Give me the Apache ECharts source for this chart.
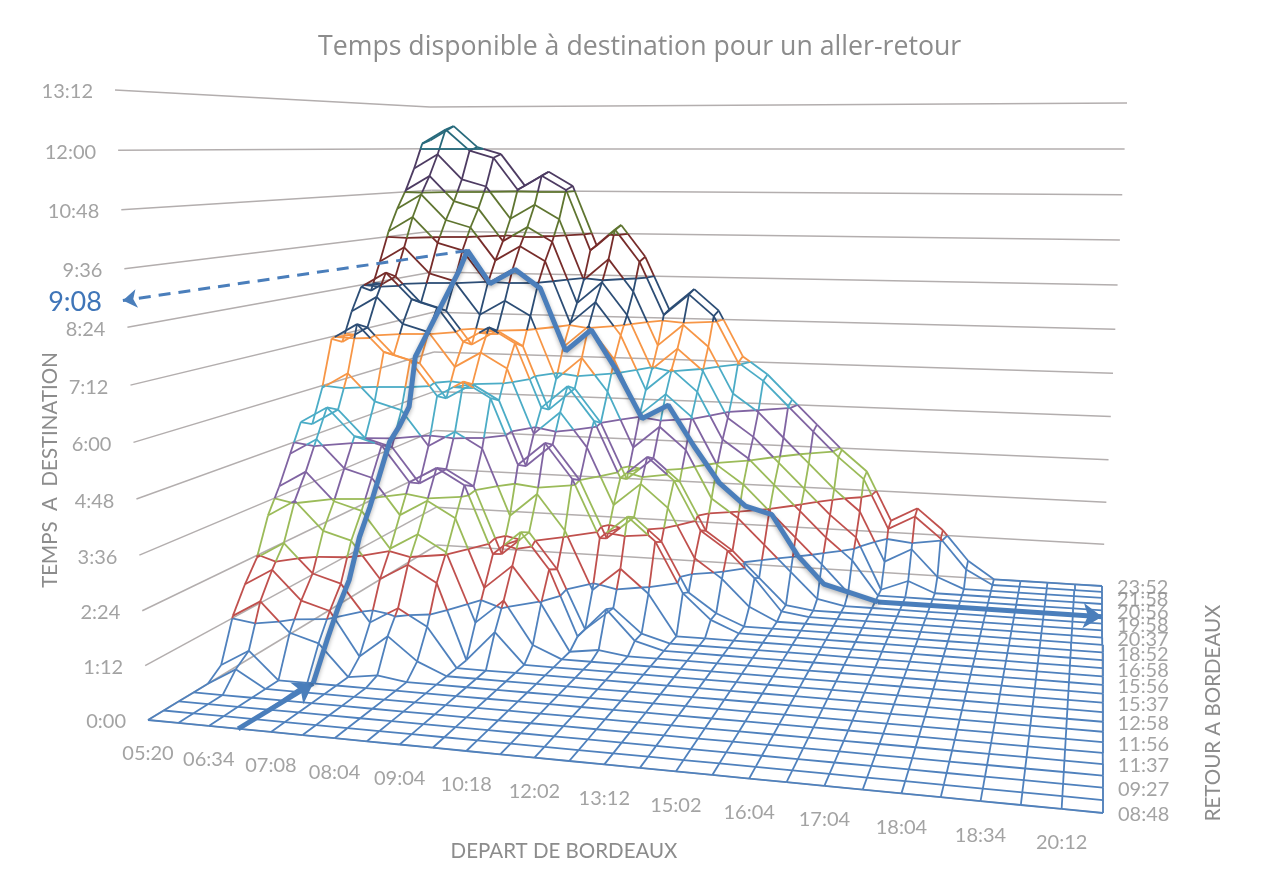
<!DOCTYPE html>
<html>
<head>
<meta charset="utf-8">
<title>Temps disponible</title>
<script src="https://cdn.jsdelivr.net/npm/echarts@6/dist/echarts.min.js"></script>
<style>
  html, body { margin: 0; padding: 0; background: #fff; }
  #chart { width: 1261px; height: 892px; }
</style>
</head>
<body>
<div id="chart"></div>
<script>
// libelles des axes (un libelle toutes les 2 lignes/colonnes)
var departLabels = ['05:20', '06:34', '07:08', '08:04', '09:04', '10:18', '12:02', '13:12', '15:02', '16:04', '17:04', '18:04', '18:34', '20:12'];
var retourLabels = ['08:48', '09:27', '11:37', '11:56', '12:58', '15:37', '15:56', '16:58', '18:52', '20:37', '19:58', '20:56', '21:58', '23:52'];
var tempsTicks = [0, 1.2, 2.4, 3.6, 4.8, 6, 7.2, 8.4, 9.6, 10.8, 12, 13.2];

// heures disponibles : une ligne par retour (avant -> arriere), une colonne par depart
var surface = [
  [0,0,0,0,0,0,0,0,0,0,0,0,0,0,0,0,0,0,0,0,0,0,0,0,0,0,0,0],
  [0,0,0,0,0,0,0,0,0,0,0,0,0,0,0,0,0,0,0,0,0,0,0,0,0,0,0,0],
  [0,0,0,0,0,0,0,0,0,0,0,0,0,0,0,0,0,0,0,0,0,0,0,0,0,0,0,0],
  [0,0,0,0,0,0,0,0,0,0,0,0,0,0,0,0,0,0,0,0,0,0,0,0,0,0,0,0],
  [0,0.4,0,0,0,0,0,0,0,0,0,0,0,0,0,0,0,0,0,0,0,0,0,0,0,0,0,0],
  [0.25,0.65,0,0,0,0,0,0,0,0,0,0,0,0,0,0,0,0,0,0,0,0,0,0,0,0,0,0],
  [1.25,1.65,0.95,0.75,0,0.1,0,0,0,0,0,0,0,0,0,0,0,0,0,0,0,0,0,0,0,0,0,0],
  [1.85,2.25,1.55,1.35,0.3,0.85,0.3,0,0,0,0,0,0,0,0,0,0,0,0,0,0,0,0,0,0,0,0,0],
  [2.35,2.75,2.05,1.85,0.95,1.35,0.95,0,0,0,0,0,0,0,0,0,0,0,0,0,0,0,0,0,0,0,0,0],
  [3.25,3.65,2.95,2.75,1.85,2.25,1.85,0,0.75,0,0,0,0,0,0,0,0,0,0,0,0,0,0,0,0,0,0,0],
  [3.85,4.25,3.55,3.35,2.45,2.85,2.45,0.75,1.35,0.3,0,0,0,0,0,0,0,0,0,0,0,0,0,0,0,0,0,0],
  [4.55,4.95,4.25,4.05,3.15,3.55,3.15,1.45,2.05,1.15,0,0.1,0,0,0,0,0,0,0,0,0,0,0,0,0,0,0,0],
  [5.25,5.65,4.95,4.75,3.85,4.25,3.85,2.15,2.75,1.85,0.2,0.95,0.2,0,0,0,0,0,0,0,0,0,0,0,0,0,0,0],
  [5.1,5.5,4.8,4.6,3.7,4.1,3.7,2.0,2.6,1.7,0.2,0.8,0.2,0,0,0,0,0,0,0,0,0,0,0,0,0,0,0],
  [5.95,6.35,5.65,5.45,4.55,4.95,4.55,2.85,3.45,2.55,1.05,1.65,1.05,0,0,0,0,0,0,0,0,0,0,0,0,0,0,0],
  [7.15,7.55,6.85,6.65,5.75,6.15,5.75,4.05,4.65,3.75,2.25,2.85,2.25,0.95,0.3,0,0,0,0,0,0,0,0,0,0,0,0,0],
  [7.0,7.4,6.7,6.5,5.6,6.0,5.6,3.9,4.5,3.6,2.1,2.7,2.1,0.8,0.3,0,0,0,0,0,0,0,0,0,0,0,0,0],
  [7.75,8.15,7.45,7.25,6.35,6.75,6.35,4.65,5.25,4.35,2.85,3.45,2.85,1.55,1.05,0.35,0,0,0,0,0,0,0,0,0,0,0,0],
  [8.35,8.75,8.05,7.85,6.95,7.35,6.95,5.25,5.85,4.95,3.45,4.05,3.45,2.15,1.65,0.95,0.1,0,0,0,0,0,0,0,0,0,0,0],
  [8.2,8.6,7.9,7.7,6.8,7.2,6.8,5.1,5.7,4.8,3.3,3.9,3.3,2.0,1.5,0.8,0.1,0,0,0,0,0,0,0,0,0,0,0],
  [8.95,9.35,8.65,8.45,7.55,7.95,7.55,5.85,6.45,5.55,4.05,4.65,4.05,2.75,2.25,1.55,0.85,0.15,0,0,0,0,0,0,0,0,0,0],
  [9.75,10.15,9.45,9.25,8.35,8.75,8.35,6.65,7.25,6.35,4.85,5.45,4.85,3.55,3.05,2.35,1.65,0.95,0.2,0,0,0,0,0,0,0,0,0],
  [10.35,10.75,10.05,9.85,8.95,9.35,8.95,7.25,7.85,6.95,5.45,6.05,5.45,4.15,3.65,2.95,2.25,1.55,0.95,0,0,0,0,0,0,0,0,0],
  [10.85,11.25,10.55,10.35,9.45,9.85,9.45,7.75,8.35,7.45,5.95,6.55,5.95,4.65,4.15,3.45,2.75,2.05,1.45,0,0.3,0,0,0,0,0,0,0],
  [11.45,11.85,11.15,10.95,10.05,10.45,10.05,8.35,8.95,8.05,6.55,7.15,6.55,5.25,4.75,4.05,3.35,2.65,2.05,0.65,1.05,0.3,0,0,0,0,0,0],
  [12.15,12.55,11.95,11.75,10.85,11.25,10.85,9.15,9.75,8.85,7.35,7.95,7.35,6.05,5.55,4.85,4.15,3.45,2.85,1.45,1.85,1.25,0.4,0,0,0,0,0],
  [12.25,12.65,12.05,11.85,10.95,11.35,10.95,9.25,9.85,8.95,7.45,8.05,7.45,6.15,5.65,4.95,4.25,3.55,2.95,1.55,1.95,1.35,0.5,0,0,0,0,0]
];

// trajet en gras : depart, retour (indices) et temps disponible
var trajetMontee = [[2.95,0,0],[3.2,5,0]];
var trajetCol = [3.2,3.3,3.3,3.3,3.3,3.3,3.3,3.3,3.3,3.3,3.2,3.2,3.2,3.2,3.2,3.2,3.2];
var trajetRow = [5,6,7,8,9,10,11,12,13,14,15,16,17,18,19,20,21];
var trajetVal = [0,0.85,1.45,1.95,2.85,3.45,4.15,4.85,5.15,5.55,6.75,7.15,7.55,7.95,8.35,8.75,9.25];
var trajetRetourVal = [8.35,8.75,8.25,6.55,7.15,6.05,4.75,5.15,4.05,3.05,2.45,2.25,1.15,0.4,0.2,0];
var tempsMax = 13.2, bandStep = 1.2;

var bandColors = ['#4f81bd', '#c0504d', '#9bbb59', '#8064a2', '#4bacc6', '#f79646', '#2c4d75', '#772c2a', '#5f7530', '#4d3b62', '#276a7c'];
var nRows = surface.length, nCols = surface[0].length;

// projection perspective : plancher et plafond de la boite 3D
function quad(p) {
  var dx1 = p[1][0] - p[2][0], dx2 = p[3][0] - p[2][0], sx = p[0][0] - p[1][0] + p[2][0] - p[3][0];
  var dy1 = p[1][1] - p[2][1], dy2 = p[3][1] - p[2][1], sy = p[0][1] - p[1][1] + p[2][1] - p[3][1];
  var den = dx1 * dy2 - dx2 * dy1;
  var g = (sx * dy2 - dx2 * sy) / den, h = (dx1 * sy - sx * dy1) / den;
  return function (u, v) {
    var w = g * u + h * v + 1;
    return [
      ((p[1][0] - p[0][0] + g * p[1][0]) * u + (p[3][0] - p[0][0] + h * p[3][0]) * v + p[0][0]) / w,
      ((p[1][1] - p[0][1] + g * p[1][1]) * u + (p[3][1] - p[0][1] + h * p[3][1]) * v + p[0][1]) / w
    ];
  };
}
var floorQuad = quad([[148, 720], [1103, 813], [1102, 586], [437, 545]]);
var topQuad = quad([[115, 90], [1135, 81], [1127, 103], [430, 107]]);

function project(col, row, z) {
  var a = floorQuad(col / (nCols - 1), row / (nRows - 1));
  var b = topQuad(col / (nCols - 1), row / (nRows - 1));
  // les graduations s'ecartent un peu vers le haut (perspective)
  var t = z / tempsMax;
  t = t * (0.944 + 0.056 * t);
  return [a[0] + (b[0] - a[0]) * t, a[1] + (b[1] - a[1]) * t];
}

var bandSegs = bandColors.map(function () { return []; });

// decoupe un segment du maillage aux limites des bandes de couleur
function addEdge(c1, r1, z1, c2, r2, z2) {
  var cuts = [0];
  var lo = Math.min(z1, z2), hi = Math.max(z1, z2);
  for (var k = 1; k * bandStep < tempsMax; k++) {
    var lv = k * bandStep;
    if (lv > lo && lv < hi) cuts.push((lv - z1) / (z2 - z1));
  }
  cuts.push(1);
  cuts.sort(function (a, b) { return a - b; });
  for (var i = 0; i < cuts.length - 1; i++) {
    var t0 = cuts[i], t1 = cuts[i + 1];
    var zm = z1 + (z2 - z1) * (t0 + t1) / 2;
    var band = Math.min(Math.floor(zm / bandStep), bandColors.length - 1);
    bandSegs[band].push({
      coords: [
        project(c1 + (c2 - c1) * t0, r1 + (r2 - r1) * t0, z1 + (z2 - z1) * t0),
        project(c1 + (c2 - c1) * t1, r1 + (r2 - r1) * t1, z1 + (z2 - z1) * t1)
      ]
    });
  }
}

for (var r = 0; r < nRows; r++) {
  for (var c = 0; c < nCols; c++) {
    if (c < nCols - 1) addEdge(c, r, surface[r][c], c + 1, r, surface[r][c + 1]);
    if (r < nRows - 1) addEdge(c, r, surface[r][c], c, r + 1, surface[r + 1][c]);
  }
}

// courbes de niveau, a chaque graduation
function addContours(level, band) {
  for (var r = 0; r < nRows - 1; r++) {
    for (var c = 0; c < nCols - 1; c++) {
      var corners = [[c, r], [c + 1, r], [c + 1, r + 1], [c, r + 1]];
      var pts = [];
      for (var i = 0; i < 4; i++) {
        var a = corners[i], b = corners[(i + 1) % 4];
        var za = surface[a[1]][a[0]], zb = surface[b[1]][b[0]];
        if ((za < level) !== (zb < level)) {
          var t = (level - za) / (zb - za);
          pts.push(project(a[0] + (b[0] - a[0]) * t, a[1] + (b[1] - a[1]) * t, level));
        }
      }
      for (var j = 0; j + 1 < pts.length; j += 2) {
        bandSegs[band].push({ coords: [pts[j], pts[j + 1]] });
      }
    }
  }
}
for (var k = 1; k * bandStep < tempsMax; k++) {
  addContours(k * bandStep, k === 10 ? 10 : k - 1);
}

// parois de la boite
var wallSegs = [];
tempsTicks.forEach(function (z) {
  wallSegs.push({ coords: [project(0, 0, z), project(0, nRows - 1, z)] });
  wallSegs.push({ coords: [project(0, nRows - 1, z), project(nCols - 1, nRows - 1, z)] });
});
wallSegs.push({ coords: [project(0, 0, 0), project(nCols - 1, 0, 0)] });
wallSegs.push({ coords: [project(nCols - 1, 0, 0), project(nCols - 1, nRows - 1, 0)] });

var trajetPts = [];
trajetCol.forEach(function (col, i) { trajetPts.push(project(col, trajetRow[i], trajetVal[i])); });
trajetRetourVal.forEach(function (z, i) { trajetPts.push(project(4.1 + i, 21, z)); });
var trajetEnd = project(nCols - 1, 21, 0);
var sommet = trajetPts[trajetCol.length - 1];
var flecheMur = project(-0.1, 0, 8.95);

var labelFont = 'Lato, "Liberation Sans", sans-serif';
var grey = '#8c8c8c';

function labelSeries(data, position, distance) {
  return {
    type: 'scatter', xAxisIndex: 0, yAxisIndex: 0, symbolSize: 0, silent: true,
    itemStyle: { color: 'transparent' },
    label: {
      show: true, position: position, distance: distance, offset: [0, 2], color: grey, fontSize: 20, fontFamily: labelFont,
      formatter: function (p) { return p.data[2]; }
    },
    data: data
  };
}

function hhmm(z) {
  var m = Math.round(z * 60);
  return Math.floor(m / 60) + ':' + ('0' + (m % 60)).slice(-2);
}

var series = [{
  type: 'lines', coordinateSystem: 'cartesian2d', silent: true, polyline: false,
  lineStyle: { color: '#b3aeae', width: 1.5, opacity: 1 },
  data: wallSegs
}];
bandSegs.forEach(function (segs, i) {
  series.push({
    type: 'lines', coordinateSystem: 'cartesian2d', silent: true,
    lineStyle: { color: bandColors[i], width: 1.8, opacity: 1 },
    data: segs
  });
});
// fleche du depart sur le plancher
series.push({
  type: 'lines', coordinateSystem: 'cartesian2d', silent: true,
  symbol: ['none', 'arrow'], symbolSize: 19,
  lineStyle: { color: '#4a7ebb', width: 5, opacity: 1 },
  data: [{ coords: [project(trajetMontee[0][0], trajetMontee[0][1], 0), project(trajetMontee[1][0], trajetMontee[1][1], 0)] }]
});
series.push({
  type: 'line', xAxisIndex: 0, yAxisIndex: 0, symbol: 'none', silent: true,
  lineStyle: { color: '#4a7ebb', width: 5, shadowBlur: 4, shadowColor: 'rgba(0,0,0,0.3)', shadowOffsetY: 2 },
  data: trajetPts
});
series.push({
  type: 'lines', coordinateSystem: 'cartesian2d', silent: true,
  symbol: ['none', 'arrow'], symbolSize: 19,
  lineStyle: { color: '#4a7ebb', width: 5, opacity: 1 },
  data: [{ coords: [trajetPts[trajetPts.length - 1], trajetEnd] }]
});
series.push({
  type: 'lines', coordinateSystem: 'cartesian2d', silent: true,
  symbol: ['none', 'arrow'], symbolSize: 14,
  lineStyle: { color: '#4a7ebb', width: 3, type: [12, 8], opacity: 1 },
  data: [{ coords: [sommet, flecheMur] }]
});
series.push(labelSeries(tempsTicks.map(function (z) {
  var p = project(0, 0, z);
  return [p[0], p[1], hhmm(z)];
}), 'left', 22));
series.push(labelSeries(departLabels.map(function (t, i) {
  var p = project(i * 2, 0, 0);
  return [p[0], p[1], t];
}), 'bottom', 22));
series.push(labelSeries(retourLabels.map(function (t, i) {
  var p = project(nCols - 1, i * 2, 0);
  return [p[0], p[1], t];
}), 'right', 15));

var myChart = echarts.init(document.getElementById('chart'));
myChart.setOption({
  animation: false,
  backgroundColor: '#fff',
  title: {
    text: 'Temps disponible à destination pour un aller-retour',
    left: 313, top: 29,
    textStyle: { color: grey, fontSize: 26.7, fontWeight: 'normal', fontFamily: '"Open Sans", sans-serif' }
  },
  grid: { left: 0, right: 0, top: 0, bottom: 0 },
  xAxis: { type: 'value', min: 0, max: 1261, show: false },
  yAxis: { type: 'value', min: 0, max: 892, inverse: true, show: false },
  graphic: [
    { type: 'text', x: 50, y: 470, rotation: Math.PI / 2, style: { text: 'TEMPS  A  DESTINATION', fill: grey, font: '20.5px ' + labelFont, textAlign: 'center', textVerticalAlign: 'middle' } },
    { type: 'text', x: 564, y: 851, style: { text: 'DEPART DE BORDEAUX', fill: grey, font: '20.5px ' + labelFont, textAlign: 'center', textVerticalAlign: 'middle' } },
    { type: 'text', x: 1213, y: 713, rotation: Math.PI / 2, style: { text: 'RETOUR A BORDEAUX', fill: grey, font: '20.5px ' + labelFont, textAlign: 'center', textVerticalAlign: 'middle' } },
    { type: 'text', x: 75, y: 302, style: { text: '9:08', fill: '#3f75b8', font: '27px ' + labelFont, textAlign: 'center', textVerticalAlign: 'middle' } }
  ],
  series: series
});
</script>
</body>
</html>
